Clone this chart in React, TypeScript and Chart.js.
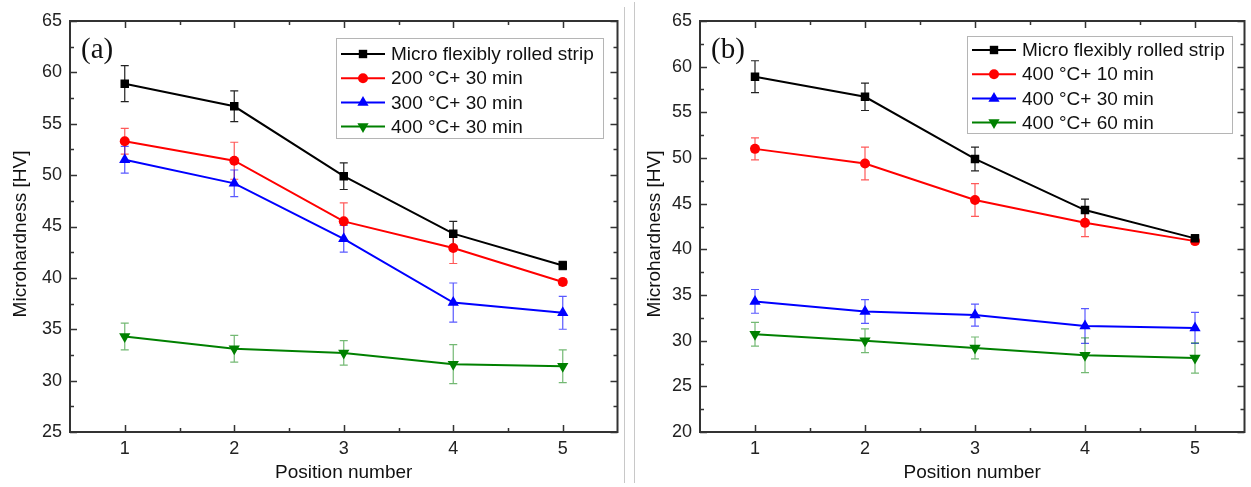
import React, { useEffect, useRef } from "react";
import { Chart, registerables } from "chart.js";

Chart.register(...registerables);

// ---------------- data ----------------
const positions = [1, 2, 3, 4, 5];
const xTickValues = [1, 2, 3, 4, 5];

const stripValues = [58.9, 56.7, 49.9, 44.3, 41.2];
const stripErrors = [1.75, 1.5, 1.3, 1.2, 0.4];

const a200Values = [53.3, 51.4, 45.5, 42.9, 39.6];
const a200Errors = [1.25, 1.8, 1.8, 1.5, 0.3];
const a300Values = [51.5, 49.2, 43.8, 37.6, 36.6];
const a300Errors = [1.3, 1.3, 1.3, 1.9, 1.6];
const a400Values = [34.3, 33.1, 32.7, 31.6, 31.4];
const a400Errors = [1.3, 1.3, 1.2, 1.9, 1.6];

const b10Values = [51.0, 49.4, 45.4, 42.9, 40.9];
const b10Errors = [1.2, 1.8, 1.8, 1.5, 0.3];
const b30Values = [34.3, 33.2, 32.8, 31.6, 31.4];
const b30Errors = [1.3, 1.3, 1.2, 1.9, 1.7];
const b60Values = [30.7, 30.0, 29.2, 28.4, 28.1];
const b60Errors = [1.3, 1.3, 1.2, 1.9, 1.65];

const labelsA = ["Micro flexibly rolled strip", "200 °C+ 30 min", "300 °C+ 30 min", "400 °C+ 30 min"];
const labelsB = ["Micro flexibly rolled strip", "400 °C+ 10 min", "400 °C+ 30 min", "400 °C+ 60 min"];

const xTitle = "Position number";
const yTitle = "Microhardness [HV]";

// ---------------- styles ----------------
const SANS = '"Liberation Sans", Arial, sans-serif';
const SERIF = '"Liberation Serif", "Times New Roman", serif';

const styles = [
  { color: "#000000", err: "#222222", shape: "square" },
  { color: "#ff0000", err: "rgba(255,0,0,0.65)", shape: "circle" },
  { color: "#0000ff", err: "rgba(0,0,255,0.65)", shape: "up" },
  { color: "#008000", err: "rgba(0,128,0,0.55)", shape: "down" },
];

function pointOpts(shape: string) {
  if (shape === "square") return { pointStyle: "rect", pointRadius: 6, pointRotation: 0 };
  if (shape === "circle") return { pointStyle: "circle", pointRadius: 5, pointRotation: 0 };
  if (shape === "up") return { pointStyle: "triangle", pointRadius: 6.5, pointRotation: 0 };
  return { pointStyle: "triangle", pointRadius: 6.5, pointRotation: 180 };
}

function drawMarker(ctx: CanvasRenderingContext2D, shape: string, x: number, y: number, color: string) {
  ctx.save();
  ctx.fillStyle = color;
  ctx.beginPath();
  if (shape === "square") {
    ctx.rect(x - 4.2, y - 4.2, 8.4, 8.4);
  } else if (shape === "circle") {
    ctx.arc(x, y, 5, 0, Math.PI * 2);
  } else if (shape === "up") {
    ctx.moveTo(x, y - 6.5);
    ctx.lineTo(x + 5.6, y + 3.25);
    ctx.lineTo(x - 5.6, y + 3.25);
    ctx.closePath();
  } else {
    ctx.moveTo(x, y + 6.5);
    ctx.lineTo(x + 5.6, y - 3.25);
    ctx.lineTo(x - 5.6, y - 3.25);
    ctx.closePath();
  }
  ctx.fill();
  ctx.restore();
}

const decorPlugin = {
  id: "decor",
  beforeDatasetsDraw(chart: any) {
    const ctx = chart.ctx;
    const yScale = chart.scales.y;
    chart.data.datasets.forEach((ds: any, di: number) => {
      const meta = chart.getDatasetMeta(di);
      const errs: number[] = ds.errors || [];
      ctx.save();
      ctx.strokeStyle = ds.errColor;
      ctx.lineWidth = 1.2;
      meta.data.forEach((pt: any, i: number) => {
        const v = ds.data[i].y;
        const e = errs[i] || 0;
        if (!e) return;
        const yt = yScale.getPixelForValue(v + e);
        const yb = yScale.getPixelForValue(v - e);
        const x = pt.x;
        ctx.beginPath();
        ctx.moveTo(x, yt);
        ctx.lineTo(x, yb);
        ctx.moveTo(x - 4, yt);
        ctx.lineTo(x + 4, yt);
        ctx.moveTo(x - 4, yb);
        ctx.lineTo(x + 4, yb);
        ctx.stroke();
      });
      ctx.restore();
    });
  },
  afterDraw(chart: any, _args: any, opts: any) {
    const ctx = chart.ctx;
    const { left, right, top, bottom } = chart.chartArea;
    const xs = chart.scales.x;
    const ys = chart.scales.y;
    ctx.save();
    // ticks (inward) on all four sides
    ctx.strokeStyle = "#333";
    ctx.lineWidth = 1.5;
    const xMaj = xs.ticks.map((t: any) => t.value);
    const yMaj = ys.ticks.map((t: any) => t.value);
    const xMin: number[] = [];
    for (let i = 0; i < xMaj.length - 1; i++) xMin.push((xMaj[i] + xMaj[i + 1]) / 2);
    const yMin: number[] = [];
    for (let i = 0; i < yMaj.length - 1; i++) yMin.push((yMaj[i] + yMaj[i + 1]) / 2);
    ctx.beginPath();
    const tx = (vals: number[], len: number) => {
      vals.forEach((v) => {
        const px = Math.round(xs.getPixelForValue(v)) + 0.5;
        ctx.moveTo(px, bottom);
        ctx.lineTo(px, bottom - len);
        ctx.moveTo(px, top);
        ctx.lineTo(px, top + len);
      });
    };
    const ty = (vals: number[], len: number) => {
      vals.forEach((v) => {
        const py = Math.round(ys.getPixelForValue(v)) + 0.5;
        ctx.moveTo(left, py);
        ctx.lineTo(left + len, py);
        ctx.moveTo(right, py);
        ctx.lineTo(right - len, py);
      });
    };
    tx(xMaj, 7);
    tx(xMin, 4);
    ty(yMaj, 7);
    ty(yMin, 4);
    ctx.stroke();
    // frame
    ctx.lineWidth = 2;
    ctx.strokeStyle = "#333";
    ctx.strokeRect(left, top, right - left, bottom - top);

    // y-axis title
    ctx.save();
    ctx.translate(opts.yTitleX, opts.yTitleY);
    ctx.rotate(-Math.PI / 2);
    ctx.font = "19px " + SANS;
    ctx.fillStyle = "#111";
    ctx.textAlign = "center";
    ctx.textBaseline = "middle";
    ctx.fillText(opts.yTitle, 0, 0);
    ctx.restore();

    // legend
    const lb = opts.legendBox;
    ctx.fillStyle = "#ffffff";
    ctx.fillRect(lb.x, lb.y, lb.w, lb.h);
    ctx.strokeStyle = "#b5b5b5";
    ctx.lineWidth = 1;
    ctx.strokeRect(lb.x + 0.5, lb.y + 0.5, lb.w, lb.h);
    ctx.font = "19px " + SANS;
    ctx.textBaseline = "middle";
    ctx.textAlign = "left";
    chart.data.datasets.forEach((ds: any, i: number) => {
      const ry = lb.rowY + i * lb.rowGap;
      ctx.strokeStyle = ds.borderColor;
      ctx.lineWidth = 2;
      ctx.beginPath();
      ctx.moveTo(lb.x + 5, ry);
      ctx.lineTo(lb.x + 49, ry);
      ctx.stroke();
      drawMarker(ctx, ds.shape, lb.x + 27, ry, ds.borderColor);
      ctx.fillStyle = "#111";
      ctx.fillText(ds.label, lb.x + 55, ry + 1);
    });

    // panel label
    ctx.font = "29px " + SERIF;
    ctx.fillStyle = "#111";
    ctx.textBaseline = "middle";
    ctx.fillText(opts.panelLabel, opts.labelX, opts.labelY);
    ctx.restore();
  },
};

type Panel = {
  labels: string[];
  values: number[][];
  errors: number[][];
  yMin: number;
  yMax: number;
  xMin: number;
  xMax: number;
  width: number;
  yAxisWidth: number;
  padRight: number;
  legendBox: any;
  panelLabel: string;
  labelX: number;
  labelY: number;
};

const panelA: Panel = {
  labels: labelsA,
  values: [stripValues, a200Values, a300Values, a400Values],
  errors: [stripErrors, a200Errors, a300Errors, a400Errors],
  yMin: 25,
  yMax: 65,
  xMin: 0.5,
  xMax: 5.5,
  width: 624,
  yAxisWidth: 70,
  padRight: 2,
  legendBox: { x: 336, y: 38, w: 267, h: 100, rowY: 54, rowGap: 24.2 },
  panelLabel: "(a)",
  labelX: 81,
  labelY: 50,
};

const panelB: Panel = {
  labels: labelsB,
  values: [stripValues, b10Values, b30Values, b60Values],
  errors: [stripErrors, b10Errors, b30Errors, b60Errors],
  yMin: 20,
  yMax: 65,
  xMin: 0.5,
  xMax: 5.45,
  width: 617,
  yAxisWidth: 66,
  padRight: 5,
  legendBox: { x: 333, y: 36, w: 265, h: 97, rowY: 50, rowGap: 24.2 },
  panelLabel: "(b)",
  labelX: 77,
  labelY: 50,
};

function PanelChart({ panel }: { panel: Panel }) {
  const ref = useRef<HTMLCanvasElement | null>(null);
  useEffect(() => {
    if (!ref.current) return;
    const datasets = panel.labels.map((label, i) => {
      const st = styles[i];
      return {
        label,
        data: positions.map((x, j) => ({ x, y: panel.values[i][j] })),
        errors: panel.errors[i],
        errColor: st.err,
        shape: st.shape,
        borderColor: st.color,
        backgroundColor: st.color,
        pointBackgroundColor: st.color,
        pointBorderColor: st.color,
        pointBorderWidth: 0,
        borderWidth: 2,
        tension: 0,
        ...pointOpts(st.shape),
      };
    });
    const chart = new Chart(ref.current, {
      type: "line",
      data: { datasets } as any,
      options: {
        animation: false,
        responsive: false,
        events: [],
        layout: { padding: { top: 21, right: panel.padRight, left: 0, bottom: 0 } },
        plugins: {
          legend: { display: false },
          tooltip: { enabled: false },
          decor: {
            legendBox: panel.legendBox,
            panelLabel: panel.panelLabel,
            labelX: panel.labelX,
            labelY: panel.labelY,
            yTitle,
            yTitleX: 20.5,
            yTitleY: 234,
          },
        } as any,
        scales: {
          x: {
            type: "linear",
            min: panel.xMin,
            max: panel.xMax,
            grid: { display: false, drawTicks: false },
            border: { display: false },
            afterBuildTicks: (scale: any) => {
              scale.ticks = xTickValues.map((v) => ({ value: v }));
            },
            afterFit: (scale: any) => {
              scale.height = 55;
            },
            ticks: {
              padding: 6,
              color: "#222",
              font: { family: SANS, size: 18 },
              callback: (v: any) => String(v),
            },
            title: {
              display: true,
              text: xTitle,
              color: "#111",
              font: { family: SANS, size: 19 },
              padding: { top: 0, bottom: 3 },
            },
          },
          y: {
            type: "linear",
            min: panel.yMin,
            max: panel.yMax,
            grid: { display: false, drawTicks: false },
            border: { display: false },
            afterFit: (scale: any) => {
              scale.width = panel.yAxisWidth;
            },
            ticks: {
              stepSize: 5,
              padding: 8,
              color: "#222",
              font: { family: SANS, size: 18 },
            },
            title: { display: false },
          },
        },
      } as any,
      plugins: [decorPlugin as any],
    });
    return () => chart.destroy();
  }, [panel]);
  return <canvas ref={ref} width={panel.width} height={487} style={{ display: "block" }} />;
}

export default function App() {
  return (
    <div
      style={{
        position: "absolute",
        left: 0,
        top: 0,
        width: 1251,
        height: 487,
        background: "#ffffff",
        overflow: "hidden",
      }}
    >
      <div style={{ position: "absolute", left: 0, top: 0 }}>
        <PanelChart panel={panelA} />
      </div>
      <div style={{ position: "absolute", left: 624, top: 7, width: 1, height: 476, background: "#c8c8c8" }} />
      <div style={{ position: "absolute", left: 634, top: 2, width: 1, height: 481, background: "#c8c8c8" }} />
      <div style={{ position: "absolute", left: 634, top: 0 }}>
        <PanelChart panel={panelB} />
      </div>
    </div>
  );
}
